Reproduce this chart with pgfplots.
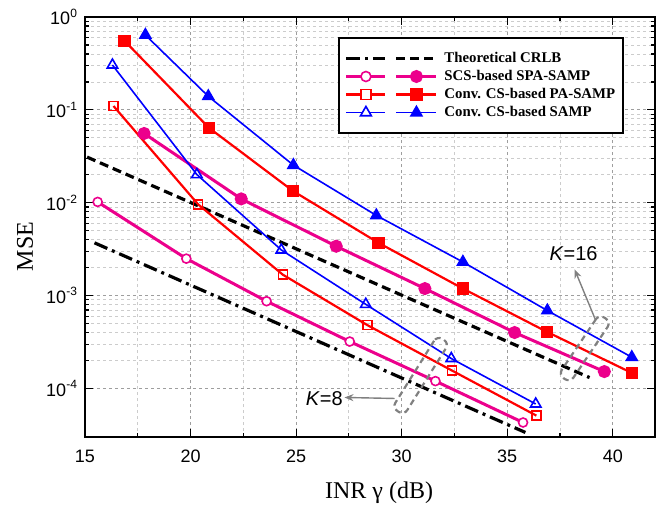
\documentclass[border=0pt]{standalone}
\usepackage{fontspec}
\setmainfont{Liberation Serif}
\newfontfamily\arial{Liberation Sans}
\usepackage{pgfplots}
\pgfplotsset{compat=1.18}
\usetikzlibrary{arrows.meta}
\definecolor{gmaj}{gray}{0.62}
\definecolor{gmin}{gray}{0.8}
\definecolor{annot}{gray}{0.5}
\pgfplotsset{
 twoleg/.style={legend image code/.code={
   \pgfpathrectangle{\pgfpoint{0pt}{-3pt}}{\pgfpoint{46pt}{6pt}}\pgfusepath{}
   \draw[##1, mark repeat=2, mark phase=2, mark options={solid, fill=white, line width=0.8pt}] plot coordinates {(0pt,0pt) (9.75pt,0pt) (19.5pt,0pt)};
   \draw[##1, mark repeat=2, mark phase=2] plot coordinates {(25pt,0pt) (35pt,0pt) (45pt,0pt)};
 }},
}
\begin{document}
\begin{tikzpicture}
\begin{axis}[
 scale only axis, width=285pt, height=210pt,
 xmin=15, xmax=42, ymode=log, ymin=3e-5, ymax=1,
 xtick={15,20,...,40}, minor x tick num=1,
 ytick={1e-4,1e-3,1e-2,1e-1,1},
 yticklabels={10\textsuperscript{-4},10\textsuperscript{-3},10\textsuperscript{-2},10\textsuperscript{-1},10\textsuperscript{0}},
 tick label style={font=\arial\fontsize{9}{10}\selectfont},
 xticklabel style={yshift=-3pt},
 /pgf/number format/assume math mode=true,
 tick align=inside,
 major tick length=4pt, minor tick length=2pt,
 axis line style={line width=1pt},
 every tick/.style={black, line width=0.6pt},
 grid=both,
 major grid style={gmaj, dash pattern=on 1.5pt off 1.5pt, line width=0.4pt},
 minor grid style={gmin, dash pattern=on 1.5pt off 1.5pt, line width=0.4pt},
 xlabel={INR γ (dB)},
 ylabel={MSE},
 every axis x label/.style={at={([yshift=-28pt]rel axis cs:0.516,0)}, anchor=center, font=\fontsize{12}{14}\selectfont},
 every axis y label/.style={at={([xshift=-30pt]rel axis cs:0,0.4536)}, anchor=center, rotate=90, font=\fontsize{12}{14}\selectfont},
 legend style={at={(0.9456,0.9524)}, anchor=north east, draw=black, line width=0.8pt,
   font=\bfseries\fontsize{7.4}{9}\selectfont, inner xsep=3pt, inner ysep=6pt, row sep=0.4pt,
   nodes={inner sep=1pt}},
 legend cell align=left,
]
% Theoretical CRLB
\addplot[black, line width=1.6pt, dash pattern=on 7pt off 2.5pt on 1.5pt off 2.5pt, forget plot] coordinates {(15.45,3.7e-3) (35.86,3.36e-5)};
\addplot[black, line width=1.6pt, dash pattern=on 4.5pt off 2.5pt,
  legend image code/.code={
   \pgfpathrectangle{\pgfpoint{0pt}{-3pt}}{\pgfpoint{48pt}{6pt}}\pgfusepath{}
   \draw[black, line width=1.6pt, dash pattern=on 7pt off 2.5pt on 1.5pt off 2.5pt] (0pt,0pt) -- (19.5pt,0pt);
   \draw[black, line width=1.6pt, dash pattern=on 4.5pt off 2.5pt] (25pt,0pt) -- (45pt,0pt);
  }] coordinates {(15.1,0.031) (38.9,1.31e-4)};
\addlegendentry{Theoretical CRLB}
% SCS-based SPA-SAMP
\addplot[magenta, line width=1.5pt, mark=*, mark size=2.25pt, mark options={solid, fill=white, line width=0.8pt}, forget plot] coordinates {
(15.6,0.0102) (19.8,2.5e-3) (23.6,8.7e-4) (27.54,3.2e-4) (31.6,1.2e-4) (35.75,4.3e-5)};
\addplot[magenta, line width=1.5pt, mark=*, mark size=2.5pt, mark options={solid, fill=magenta}, twoleg] coordinates {
(17.8,0.0557) (22.4,0.011) (26.9,3.4e-3) (31.1,1.19e-3) (35.35,4.0e-4) (39.6,1.52e-4)};
\addlegendentry{SCS-based SPA-SAMP}
% Conv. CS-based PA-SAMP
\addplot[red, line width=1.1pt, mark=square, mark size=2.25pt, mark options={solid, fill=white, line width=0.8pt}, forget plot] coordinates {
(16.35,0.11) (20.36,9.6e-3) (24.37,1.68e-3) (28.38,4.8e-4) (32.38,1.56e-4) (36.38,5.1e-5)};
\addplot[red, line width=1.1pt, mark=square*, mark size=2.5pt, mark options={solid, fill=red}, twoleg] coordinates {
(16.87,0.555) (20.87,0.064) (24.87,0.0133) (28.9,3.7e-3) (32.9,1.19e-3) (36.9,4.05e-4) (40.9,1.47e-4)};
\addlegendentry{Conv. CS-based PA-SAMP}
% Conv. CS-based SAMP
\addplot[blue, line width=0.8pt, mark=triangle, mark size=3pt, mark options={solid, fill=white, line width=0.8pt}, forget plot] coordinates {
(16.3,0.304) (20.3,0.0201) (24.3,3.1e-3) (28.3,8.05e-4) (32.35,2.1e-4) (36.35,6.8e-5)};
\addplot[blue, line width=0.8pt, mark=triangle*, mark size=3.1pt, mark options={solid, fill=blue}, twoleg] coordinates {
(17.86,0.64) (20.84,0.14) (24.87,0.0254) (28.8,7.3e-3) (32.9,2.3e-3) (36.9,6.9e-4) (40.9,2.17e-4)};
\addlegendentry{Conv. CS-based SAMP}
% annotations
\node[draw=annot, line width=1.1pt, dash pattern=on 3pt off 2pt, rounded corners=3pt, minimum width=36.5pt, minimum height=7pt, inner sep=0pt, rotate=56] at (axis cs:38.67,2.7e-4) {};
\node[draw=annot, line width=1.1pt, dash pattern=on 3pt off 2pt, rounded corners=3pt, minimum width=42.5pt, minimum height=7pt, inner sep=0pt, rotate=58] at (axis cs:30.9,1.38e-4) {};
\draw[annot, line width=0.7pt, -{Stealth[length=4.5pt,width=3.5pt]}] (axis cs:39.19,5.41e-4) -- (axis cs:38.19,1.92e-3);
\draw[annot, line width=0.7pt, -{Stealth[length=4.5pt,width=3.5pt]}] (axis cs:29.67,7.8e-5) -- (axis cs:27.29,8.0e-5);
\node[font=\arial\fontsize{10}{12}\selectfont, inner sep=0pt] at (axis cs:38.14,2.85e-3) {\textit{K}=16};
\node[font=\arial\fontsize{10}{12}\selectfont, inner sep=0pt] at (axis cs:26.33,7.8e-5) {\textit{K}=8};
\end{axis}
\path ([shift={(-42.5pt,-34.5pt)}]current axis.south west) rectangle ([shift={(3pt,8.5pt)}]current axis.north east);
\end{tikzpicture}
\end{document}
